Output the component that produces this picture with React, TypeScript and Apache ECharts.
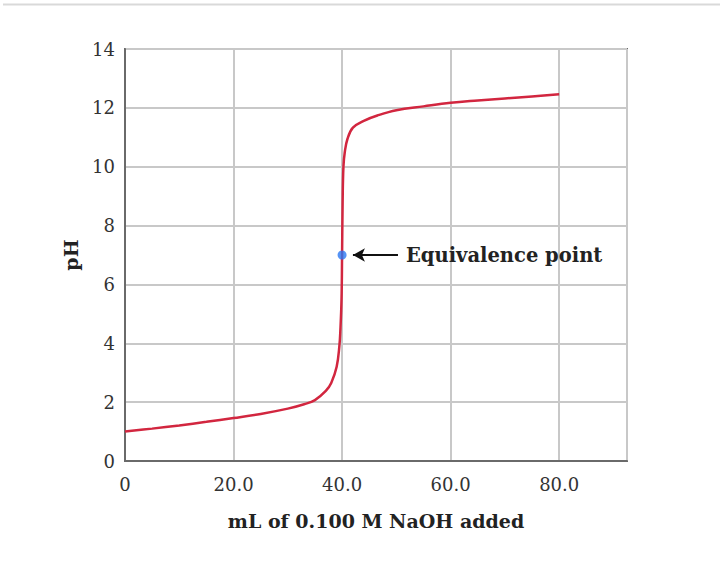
import React, { useEffect, useRef } from "react";
import * as echarts from "echarts";

const volumes = [0, 5, 10, 15, 20, 25, 30, 33, 35, 37, 38, 39, 39.5, 39.7, 39.9, 40, 40.1, 40.25, 40.5, 41, 42, 44, 46.5, 50, 55, 60, 65, 70, 75, 80];
const phValues = [1.0, 1.1, 1.21, 1.33, 1.46, 1.6, 1.78, 1.93, 2.07, 2.38, 2.65, 3.2, 3.9, 4.5, 5.5, 7.0, 8.8, 10.0, 10.5, 10.95, 11.33, 11.56, 11.74, 11.92, 12.05, 12.17, 12.25, 12.32, 12.39, 12.46];
const equivalencePoint = [40, 7.0];
const arrowFrom = [42.0, 7.0];
const arrowTo = [50.3, 7.0];
const yTicks = [0, 2, 4, 6, 8, 10, 12, 14];
const xTickLabels = ["0", "20.0", "40.0", "60.0", "80.0"];

export default function App() {
  const ref = useRef<HTMLDivElement>(null);
  useEffect(() => {
    if (!ref.current) return;
    const chart = echarts.init(ref.current, undefined, { renderer: "svg" });
    const curve = volumes.map((v, i) => [v, phValues[i]]);
    chart.setOption({
      animation: false,
      backgroundColor: "#ffffff",
      graphic: [
        {
          type: "line",
          shape: { x1: 3, y1: 4.5, x2: 720, y2: 4.5 },
          style: { stroke: "#d9d9d9", lineWidth: 2 },
        },
      ],
      grid: {
        left: 125,
        top: 49,
        right: 97,
        bottom: 117,
        show: true,
        borderColor: "#6a6a6a",
        borderWidth: 2,
        backgroundColor: "transparent",
      },
      xAxis: {
        type: "value",
        min: 0,
        max: 92.5,
        interval: 20,
        name: "mL of 0.100 M NaOH added",
        nameLocation: "middle",
        nameGap: 50,
        nameTextStyle: { fontFamily: "DejaVu Serif", fontWeight: "bold", fontSize: 19, color: "#222" },
        axisLine: { show: true, lineStyle: { color: "#6a6a6a", width: 2 } },
        axisTick: { show: false },
        splitLine: { show: true, lineStyle: { color: "#c8c8c8", width: 2 } },
        axisLabel: {
          showMaxLabel: false,
          margin: 14,
          fontFamily: "DejaVu Serif",
          fontSize: 18,
          color: "#333",
          formatter: (v: number) => {
            const idx = Math.round(v / 20);
            return Math.abs(v - idx * 20) < 1e-6 && idx < xTickLabels.length ? xTickLabels[idx] : "";
          },
        },
      },
      yAxis: {
        type: "value",
        min: yTicks[0],
        max: yTicks[yTicks.length - 1],
        interval: 2,
        name: "pH",
        nameLocation: "middle",
        nameGap: 45,
        nameTextStyle: { fontFamily: "DejaVu Serif", fontWeight: "bold", fontSize: 19, color: "#222" },
        axisLine: { show: true, lineStyle: { color: "#6a6a6a", width: 2 } },
        axisTick: { show: false },
        splitLine: { show: true, lineStyle: { color: "#c8c8c8", width: 2 } },
        axisLabel: { margin: 10, fontFamily: "DejaVu Serif", fontSize: 18, color: "#333" },
      },
      series: [
        {
          type: "line",
          data: curve,
          showSymbol: false,
          smooth: 0.4,
          lineStyle: { color: "#d2263f", width: 2.5 },
          z: 3,
          markLine: {
            silent: true,
            symbol: ["arrow", "none"],
            symbolSize: [10, 12],
            lineStyle: { color: "#111", width: 2, type: "solid" },
            label: {
              show: true,
              position: "end",
              distance: 8,
              formatter: "Equivalence point",
              fontFamily: "DejaVu Serif",
              fontWeight: "bold",
              fontSize: 19.5,
              color: "#222",
            },
            data: [[{ coord: arrowFrom }, { coord: arrowTo }]],
          },
        },
        {
          type: "scatter",
          data: [equivalencePoint],
          symbolSize: 9,
          itemStyle: { color: "#2a78f2" },
          z: 5,
        },
      ],
    });
    return () => chart.dispose();
  }, []);
  return <div ref={ref} style={{ position: "fixed", left: 0, top: 0, width: 724, height: 578 }} />;
}
